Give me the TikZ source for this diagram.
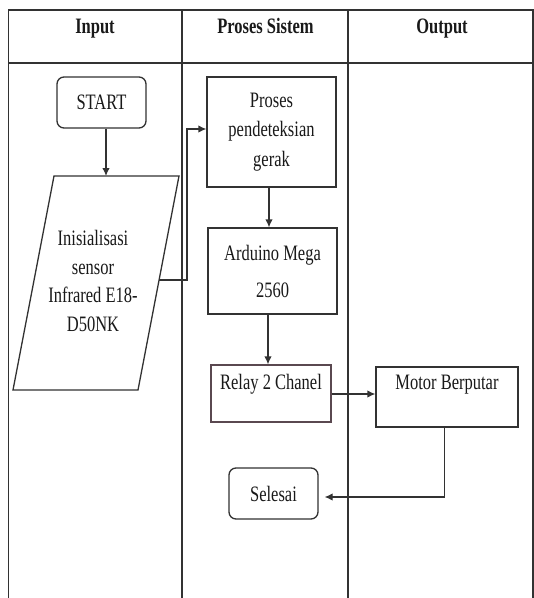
\documentclass[tikz,border=0pt]{standalone}
\usepackage{fontspec}
\setmainfont{Liberation Serif}[FakeStretch=0.75]
\usetikzlibrary{arrows.meta}
\definecolor{ln}{RGB}{50,50,50}
\definecolor{tx}{RGB}{25,25,25}
\definecolor{relayc}{RGB}{90,72,80}
\begin{document}
\begin{tikzpicture}[x=1pt,y=-1pt,
  every node/.style={text=tx},
  grid/.style={draw=ln,line width=1.3pt},
  box/.style={draw=ln,line width=1.3pt,inner sep=0pt,font=\fontsize{22}{29.5}\selectfont,align=center},
  term/.style={box,rounded corners=7pt},
  hdr/.style={font=\bfseries\fontsize{22}{26}\selectfont,anchor=base},
  lbl/.style={font=\fontsize{22}{28.5}\selectfont,align=center,anchor=base},
  arr/.style={draw=ln,line width=1.3pt,-{Latex[length=8pt,width=7.5pt]}},
  con/.style={draw=ln,line width=1.3pt}]
\useasboundingbox (0,0) rectangle (534,598);
\fill[white] (0,0) rectangle (534,598);
% swimlane grid
\coordinate (tl) at (8.5,10);
\coordinate (tr) at (533,10);
\coordinate (hl) at (8.5,63);
\coordinate (hr) at (533,63);
\draw[grid] (8.5,598) -- (tl) -- (tr) -- (533,598);
\draw[grid] (hl) -- (hr);
\draw[grid] (182,10) -- (182,598);
\draw[grid] (348,10) -- (348,598);
% headers
\node[hdr] (h1) at (95,33) {Input};
\node[hdr] (h2) at (265.5,33) {Proses Sistem};
\node[hdr] (h3) at (442,33) {Output};
% START
\node[term,minimum width=89pt,minimum height=51pt] (start) at (101.5,102.5) {START};
% parallelogram
\coordinate (pTL) at (54,176);
\coordinate (pTR) at (179,176);
\coordinate (pBR) at (138,390);
\coordinate (pBL) at (13,390);
\coordinate (pR) at (159,280);
\draw[con] (pTL) -- (pTR) -- (pBR) -- (pBL) -- cycle;
\node[font=\fontsize{22}{28.5}\selectfont,align=center] (init) at (93,281) {Inisialisasi\\sensor\\Infrared E18-\\D50NK};
% process column
\node[box,minimum width=129pt,minimum height=110pt] (proses) at (271.5,132) {Proses\\pendeteksian\\gerak};
\node[box,minimum width=129pt,minimum height=86pt,font=\fontsize{22}{37}\selectfont] (arduino) at (272.5,271) {Arduino Mega\\2560};
\node[box,draw=relayc,minimum width=120pt,minimum height=57pt] (relay) at (271,393.5) {};
\node[lbl] (relaytxt) at (271,389) {Relay 2 Chanel};
\node[box,minimum width=142pt,minimum height=60pt] (motor) at (447,397) {};
\node[lbl] (motortxt) at (447,389.5) {Motor Berputar};
\node[term,minimum width=89pt,minimum height=51pt] (selesai) at (273.5,493.5) {Selesai};
% connectors
\coordinate (cx) at (187,280);
\draw[arr] ([xshift=4.5pt]start.south) -- ([xshift=4.5pt]start.south |- pTL);
\draw[arr] (pR) -- (cx) |- ([yshift=3pt]proses.west);
\draw[arr] ([xshift=-2.5pt]proses.south) -- ([xshift=-2.5pt]proses.south |- arduino.north);
\draw[arr] ([xshift=-4.5pt]arduino.south) -- ([xshift=-4.5pt]arduino.south |- relay.north);
\draw[arr] ([yshift=-0.5pt]relay.east) -- ([yshift=-0.5pt]relay.east -| motor.west);
\coordinate (mturn) at (444.5,497);
\draw[arr] ([xshift=-2.5pt]motor.south) -- (mturn) -- ([xshift=6pt,yshift=-3.5pt]selesai.east);
\end{tikzpicture}
\end{document}
